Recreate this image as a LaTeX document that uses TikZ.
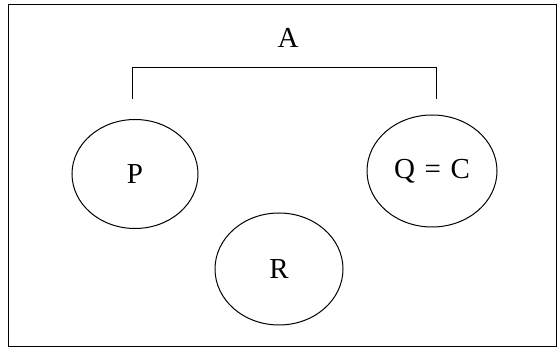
\documentclass[tikz,border=0pt]{standalone}
\usepackage{fontspec}
\setmainfont{Liberation Serif}
\usetikzlibrary{shapes.geometric}
\begin{document}
\begin{tikzpicture}[x=1pt,y=1pt,
  set/.style={draw,ellipse,line width=1pt,font=\fontsize{29}{32}\selectfont},
  lbl/.style={font=\fontsize{29}{32}\selectfont},
  line/.style={line width=1pt}]
\useasboundingbox (0,0) rectangle (558,351);
\draw[line] (8,4) rectangle (556,346);
\node[lbl] (A) at (288,313) {A};
\node[set,minimum width=126pt,minimum height=109pt] (P) at (135,177) {P};
\node[set,minimum width=130pt,minimum height=112pt] (Q) at (432,180) {Q\,\,=\,\,C};
\node[set,minimum width=128pt,minimum height=112pt] (R) at (279,82) {R};
\coordinate (L) at (132,252);
\coordinate (Rr) at (436,252);
\draw[line] (L) -- (132,283) -- (436,283) -- (Rr);
\end{tikzpicture}
\end{document}
